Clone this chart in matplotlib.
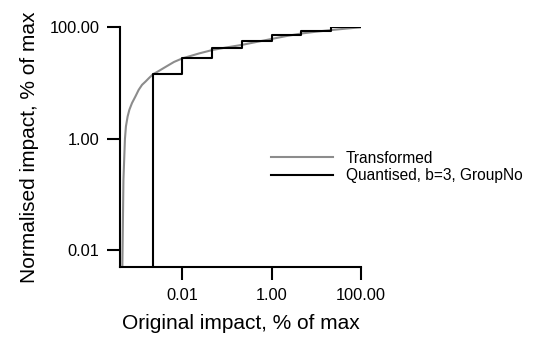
import matplotlib
matplotlib.use('Agg')
import matplotlib.pyplot as plt
from matplotlib.ticker import FixedLocator, NullLocator

plt.rcParams['font.family'] = ['Liberation Sans', 'DejaVu Sans']

# transformed curve (% of max)
trans_x = [0.000452, 0.000463, 0.000478, 0.000517, 0.000544, 0.000594, 0.00065,
           0.000743, 0.000887, 0.00105, 0.00125, 0.00149, 0.00177, 0.00218,
           0.00298, 0.00422, 0.0065, 0.01, 0.0238, 0.0475, 0.0968, 0.211,
           0.461, 1.0, 2.19, 4.71, 9.9, 22.4, 47.1, 100.0]
trans_y = [0.005, 0.0237, 0.185, 1.0, 1.67, 2.52, 3.32,
           4.37, 5.74, 7.55, 9.29, 10.6, 12.2, 14.3,
           16.5, 19.5, 23.9, 27.7, 34.0, 39.2, 43.5, 48.2,
           54.6, 61.8, 69.9, 77.5, 83.4, 89.5, 94.8, 100.0]

# quantised steps (b=3), level 0 below the first edge
quant_edges = [0.00215, 0.01, 0.0464, 0.215, 1.0, 4.64, 21.5, 100.0]
quant_levels = [0.0, 14.29, 28.57, 42.86, 57.14, 71.43, 85.71, 100.0]

tick_vals = [0.01, 1.0, 100.0]
tick_labels = ['0.01', '1.00', '100.00']

fig = plt.figure(figsize=(5.33, 3.4), dpi=100)
ax = fig.add_axes([0.226, 0.2147, 0.451, 0.705])

ax.plot(trans_x, trans_y, color='#8c8c8c', linewidth=1.5, label='Transformed')

# zero can't sit on a log axis, push it far below the bottom
qx = [quant_edges[0]] + quant_edges
qy = [max(v, 1e-6) for v in quant_levels] + [quant_levels[-1]]
ax.plot(qx, qy, color='black', linewidth=1.5, drawstyle='steps-post',
        label='Quantised, b=3, GroupNo')

ax.set_xscale('log')
ax.set_yscale('log')
ax.set_xlim(0.00041, 100)
ax.set_ylim(0.005, 100)

ax.xaxis.set_major_locator(FixedLocator(tick_vals))
ax.yaxis.set_major_locator(FixedLocator(tick_vals))
ax.xaxis.set_minor_locator(NullLocator())
ax.yaxis.set_minor_locator(NullLocator())
ax.set_xticklabels(tick_labels)
ax.set_yticklabels(tick_labels)

ax.spines['top'].set_visible(False)
ax.spines['right'].set_visible(False)
ax.spines['left'].set_linewidth(1.5)
ax.spines['bottom'].set_linewidth(1.5)
ax.tick_params(direction='out', length=9.5, width=1.5, pad=5.5, labelsize=11.8)

ax.set_xlabel('Original impact, % of max', fontsize=15, labelpad=8)
ax.set_ylabel('Normalised impact, % of max', fontsize=15, labelpad=8)

fig.legend(loc='center left', bbox_to_anchor=(0.494, 0.509), frameon=False,
           fontsize=11.2, borderpad=0, handlelength=4.0, handletextpad=0.8,
           labelspacing=0.15)

fig.savefig('out.png', dpi=100)
